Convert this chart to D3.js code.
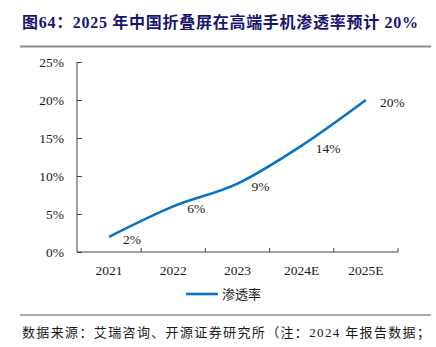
<!DOCTYPE html>
<html>
<head>
<meta charset="utf-8">
<script src="https://cdn.jsdelivr.net/npm/d3@7"></script>
<style>
  html, body { margin: 0; padding: 0; background: #fff; }
  svg text { font-family: "Liberation Serif", "Times New Roman", "Noto Sans CJK SC", serif; }
</style>
</head>
<body>
<div id="chart"></div>
<script>
const years = ['2021', '2022', '2023', '2024E', '2025E'];
const rates = [2, 6, 9, 14, 20];
const yTicks = [0, 5, 10, 15, 20, 25];
const titleText = '图64：2025 年中国折叠屏在高端手机渗透率预计 20%';
const seriesName = '渗透率';
const sourceText = '数据来源：艾瑞咨询、开源证券研究所（注：2024 年报告数据；';

const W = 436, H = 347;
const blue = '#0a72c4';
const ink = '#1a1a1a';

const svg = d3.select('#chart').append('svg')
  .attr('width', W).attr('height', H);

// Header
svg.append('text')
  .attr('x', 22).attr('y', 28)
  .attr('textLength', 396).attr('lengthAdjust', 'spacing')
  .style('font-size', '16px').style('font-weight', 'bold')
  .style('fill', '#16166e')
  .text(titleText);

svg.append('line')
  .attr('x1', 20).attr('x2', 431).attr('y1', 46.5).attr('y2', 46.5)
  .attr('stroke', '#8c8c8c').attr('stroke-width', 2);

// Plot area
const plot = { left: 77, right: 398, top: 62, bottom: 252 };

const x = d3.scaleBand().domain(years).range([plot.left, plot.right]);
const y = d3.scaleLinear().domain([0, 25]).range([plot.bottom, plot.top]);

const yAxis = svg.append('g')
  .attr('transform', `translate(${plot.left},0)`)
  .call(d3.axisLeft(y).tickValues(yTicks).tickSize(-5).tickPadding(13)
    .tickFormat(d => d + '%'));

const xAxis = svg.append('g')
  .attr('transform', `translate(0,${plot.bottom})`)
  .call(d3.axisBottom(x).tickSize(0).tickPadding(13));

// x ticks sit on the band boundaries and point up into the plot
const bounds = years.slice(1).map(d => x(d)).concat([plot.right]);
svg.append('g').selectAll('line')
  .data(bounds)
  .join('line')
  .attr('x1', d => d).attr('x2', d => d)
  .attr('y1', plot.bottom).attr('y2', plot.bottom - 4)
  .attr('stroke', '#444');

[yAxis, xAxis].forEach(g => {
  g.select('.domain').attr('stroke', '#444');
  g.selectAll('.tick line').attr('stroke', '#444');
  g.selectAll('text').style('font-size', '13.5px').style('fill', ink)
    .style('font-family', '"Liberation Serif", serif');
});
yAxis.select('.domain').attr('d', `M0,${plot.top}V${plot.bottom}`);
xAxis.select('.domain').attr('d', `M${plot.left},0H${plot.right}`);

const pts = years.map((yr, i) => ({ yr, v: rates[i] }));
const cx = d => x(d.yr) + x.bandwidth() / 2;

const line = d3.line()
  .x(cx)
  .y(d => y(d.v))
  .curve(d3.curveMonotoneX);

svg.append('path')
  .datum(pts)
  .attr('fill', 'none')
  .attr('stroke', blue)
  .attr('stroke-width', 2.6)
  .attr('d', line);

// Value labels
svg.append('g').selectAll('text')
  .data(pts)
  .join('text')
  .attr('x', d => cx(d) + 14)
  .attr('y', d => y(d.v) + 7)
  .style('font-size', '13.5px').style('fill', ink)
  .text(d => d.v + '%');

// Legend
svg.append('line')
  .attr('x1', 186).attr('x2', 218).attr('y1', 294).attr('y2', 294)
  .attr('stroke', blue).attr('stroke-width', 2.6);
svg.append('text')
  .attr('x', 222).attr('y', 298.5)
  .style('font-size', '13px').style('fill', ink)
  .style('font-family', '"Noto Sans CJK SC", sans-serif')
  .text(seriesName);

// Footer
svg.append('line')
  .attr('x1', 20).attr('x2', 431).attr('y1', 315).attr('y2', 315)
  .attr('stroke', '#8c8c8c').attr('stroke-width', 1.5);

svg.append('text')
  .attr('x', 22).attr('y', 337)
  .attr('textLength', 408).attr('lengthAdjust', 'spacing')
  .style('font-size', '13px').style('fill', ink)
  .text(sourceText);
</script>
</body>
</html>
